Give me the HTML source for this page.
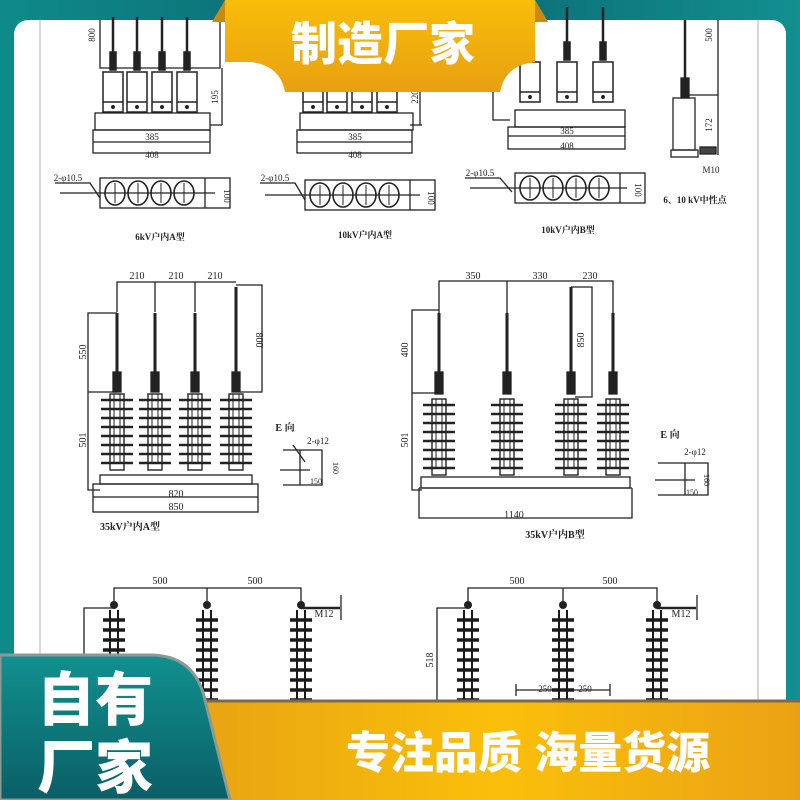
<!DOCTYPE html>
<html><head><meta charset="utf-8"><style>
html,body{margin:0;padding:0;width:800px;height:800px;overflow:hidden;background:#0e7c80}
svg{display:block}
text{font-family:"Liberation Serif","Noto Serif CJK SC",serif;fill:#222}
.ban{font-family:"Liberation Sans","Noto Sans CJK SC",sans-serif;font-weight:900;fill:#fff}
</style></head><body>
<svg width="800" height="800" viewBox="0 0 800 800" xmlns="http://www.w3.org/2000/svg">
<defs>
<linearGradient id="tg" x1="0" y1="0" x2="1" y2="0"><stop offset="0" stop-color="#0f8a8a"/><stop offset="0.5" stop-color="#0b6570"/><stop offset="1" stop-color="#128f90"/></linearGradient>
<linearGradient id="og" x1="0" y1="0" x2="0" y2="1"><stop offset="0" stop-color="#f9bd0a"/><stop offset="1" stop-color="#e8a010"/></linearGradient>
<linearGradient id="og2" x1="0" y1="0" x2="1" y2="0"><stop offset="0" stop-color="#e8a412"/><stop offset="0.5" stop-color="#fbbf0a"/><stop offset="1" stop-color="#eaa214"/></linearGradient>
<linearGradient id="tg2" x1="0" y1="0" x2="0" y2="1"><stop offset="0" stop-color="#11908f"/><stop offset="1" stop-color="#0a5f66"/></linearGradient>
<g id="sh" stroke="#222" stroke-width="2.6" fill="none">
<rect x="-7" y="-6" width="14" height="76" fill="#fff" stroke-width="1.4"/>
<line x1="-16" y1="0" x2="16" y2="0"/><line x1="-16" y1="9" x2="16" y2="9"/><line x1="-16" y1="18" x2="16" y2="18"/><line x1="-16" y1="27" x2="16" y2="27"/><line x1="-16" y1="36" x2="16" y2="36"/><line x1="-16" y1="45" x2="16" y2="45"/><line x1="-16" y1="54" x2="16" y2="54"/><line x1="-16" y1="63" x2="16" y2="63"/>
<line x1="-3" y1="-6" x2="-3" y2="62" stroke-width="1"/><line x1="3" y1="-6" x2="3" y2="62" stroke-width="1"/>
</g>
<g id="sd" stroke="#1a1a1a" stroke-width="3.5" fill="none">
<line x1="-11" y1="0" x2="11" y2="0"/><line x1="-11" y1="10" x2="11" y2="10"/><line x1="-11" y1="20" x2="11" y2="20"/><line x1="-11" y1="30" x2="11" y2="30"/><line x1="-11" y1="40" x2="11" y2="40"/><line x1="-11" y1="50" x2="11" y2="50"/><line x1="-11" y1="60" x2="11" y2="60"/><line x1="-11" y1="70" x2="11" y2="70"/><line x1="-11" y1="80" x2="11" y2="80"/><line x1="-11" y1="90" x2="11" y2="90"/>
<line x1="-4" y1="-10" x2="-4" y2="95" stroke-width="2"/><line x1="4" y1="-10" x2="4" y2="95" stroke-width="2"/>
</g>
<g id="body" stroke="#222" stroke-width="1.5" fill="#fff">
<line x1="0" y1="-55" x2="0" y2="-10" stroke-width="2.5"/>
<rect x="-3" y="-20" width="6" height="18" fill="#222"/>
<rect x="-10" y="0" width="20" height="40"/>
<line x1="-10" y1="30" x2="10" y2="30"/>
<circle cx="0" cy="35" r="1.2" fill="#222"/>
</g>
<g id="cir" stroke="#222" stroke-width="1.6" fill="none">
<ellipse cx="0" cy="0" rx="10" ry="12"/><line x1="0" y1="-10" x2="0" y2="10" stroke-width="1"/><line x1="-8" y1="0" x2="8" y2="0" stroke-width="1"/>
</g>
</defs>
<rect width="800" height="800" fill="url(#tg)"/>
<rect x="14" y="20" width="772" height="800" rx="14" fill="#fff"/>
<line x1="40" y1="20" x2="40" y2="800" stroke="#ccc" stroke-width="1.5"/>
<line x1="758" y1="20" x2="758" y2="800" stroke="#ccc" stroke-width="1.5"/>

<!-- TOP ROW -->
<g stroke="#222" stroke-width="1.3" fill="none">
<!-- left assembly -->
<use href="#body" x="113" y="72"/><use href="#body" x="137" y="72"/><use href="#body" x="162" y="72"/><use href="#body" x="187" y="72"/>
<rect x="95" y="113" width="115" height="17"/>
<rect x="93" y="130" width="117" height="23"/><line x1="93" y1="142" x2="210" y2="142"/>
<polyline points="100,20 100,68 220,68 220,20"/><line x1="210" y1="125" x2="222" y2="125"/><line x1="222" y1="68" x2="222" y2="125"/>
<rect x="100" y="178" width="130" height="30"/><line x1="205" y1="178" x2="205" y2="208"/>
<use href="#cir" x="115" y="193"/><use href="#cir" x="138" y="193"/><use href="#cir" x="161" y="193"/><use href="#cir" x="184" y="193"/>
<polyline points="55,183 90,183 100,198"/><line x1="60" y1="193" x2="215" y2="193"/>
<!-- middle assembly -->
<use href="#body" x="313" y="72"/><use href="#body" x="337" y="72"/><use href="#body" x="362" y="72"/><use href="#body" x="387" y="72"/>
<rect x="300" y="113" width="113" height="17"/>
<rect x="297" y="130" width="115" height="23"/><line x1="297" y1="142" x2="412" y2="142"/>
<line x1="420" y1="60" x2="420" y2="125"/><line x1="410" y1="125" x2="422" y2="125"/>
<rect x="305" y="180" width="130" height="30"/><line x1="410" y1="180" x2="410" y2="210"/>
<use href="#cir" x="320" y="195"/><use href="#cir" x="343" y="195"/><use href="#cir" x="366" y="195"/><use href="#cir" x="389" y="195"/>
<polyline points="260,183 295,183 305,200"/><line x1="265" y1="195" x2="420" y2="195"/>
<!-- right assembly -->
<use href="#body" x="530" y="62"/><use href="#body" x="567" y="62"/><use href="#body" x="603" y="62"/>
<rect x="515" y="110" width="110" height="17"/>
<rect x="508" y="127" width="117" height="22"/><line x1="508" y1="136" x2="625" y2="136"/>
<polyline points="493,90 493,120 510,120"/>
<rect x="515" y="173" width="130" height="30"/><line x1="620" y1="173" x2="620" y2="203"/>
<use href="#cir" x="530" y="188"/><use href="#cir" x="553" y="188"/><use href="#cir" x="576" y="188"/><use href="#cir" x="599" y="188"/>
<polyline points="465,178 500,178 512,192"/><line x1="470" y1="188" x2="627" y2="188"/>
<!-- neutral -->
<line x1="685" y1="20" x2="685" y2="80" stroke-width="2.5"/><rect x="681" y="78" width="8" height="20" fill="#222"/>
<rect x="673" y="98" width="22" height="52"/><rect x="671" y="150" width="27" height="7"/>
<polyline points="688,95 718,95 718,20"/><line x1="718" y1="95" x2="718" y2="155"/><rect x="700" y="147" width="16" height="7" fill="#444"/>
</g>
<g font-size="9" text-anchor="middle">
<text x="152" y="140">385</text><text x="152" y="158">408</text>
<text x="355" y="140">385</text><text x="355" y="158">408</text>
<text x="567" y="134">385</text><text x="567" y="149">408</text>
<text x="68" y="181">2-φ10.5</text><text x="275" y="181">2-φ10.5</text><text x="480" y="176">2-φ10.5</text>
<text x="224" y="196" transform="rotate(90 224 196)">100</text>
<text x="428" y="198" transform="rotate(90 428 198)">100</text>
<text x="635" y="190" transform="rotate(90 635 190)">100</text>
<text x="712" y="35" transform="rotate(-90 712 35)">500</text>
<text x="712" y="125" transform="rotate(-90 712 125)">172</text>
<text x="711" y="173">M10</text>
<text x="95" y="35" transform="rotate(-90 95 35)">800</text>
<text x="218" y="97" transform="rotate(-90 218 97)">195</text>
<text x="418" y="97" transform="rotate(-90 418 97)">220</text>
<text x="160" y="240" font-weight="bold">6kV户内A型</text>
<text x="365" y="238" font-weight="bold">10kV户内A型</text>
<text x="568" y="233" font-weight="bold">10kV户内B型</text>
<text x="695" y="203" font-weight="bold">6、10 kV中性点</text>
</g>

<!-- MIDDLE LEFT 35kV A -->
<g stroke="#222" stroke-width="1.3" fill="none">
<polyline points="117,312 117,282 236,282"/><line x1="155" y1="282" x2="155" y2="312"/><line x1="195" y1="282" x2="195" y2="312"/>
<polyline points="236,285 262,285 262,392 240,392"/>
<polyline points="117,313 88,313 88,490 100,490"/><line x1="88" y1="392" x2="117" y2="392"/>
<line x1="117" y1="313" x2="117" y2="385" stroke-width="3"/><line x1="155" y1="313" x2="155" y2="385" stroke-width="3"/><line x1="195" y1="313" x2="195" y2="385" stroke-width="3"/><line x1="236" y1="287" x2="236" y2="385" stroke-width="3"/>
<rect x="113" y="372" width="8" height="20" fill="#222"/><rect x="151" y="372" width="8" height="20" fill="#222"/><rect x="191" y="372" width="8" height="20" fill="#222"/><rect x="232" y="372" width="8" height="20" fill="#222"/>
<rect x="100" y="475" width="152" height="9"/>
<rect x="93" y="484" width="165" height="28"/><line x1="93" y1="497" x2="258" y2="497"/>
<polyline points="283,450 322,450 322,485 283,485"/><line x1="300" y1="450" x2="300" y2="485"/><line x1="280" y1="470" x2="310" y2="470"/><line x1="293" y1="445" x2="305" y2="462"/>
</g>
<use href="#sh" x="117" y="400"/><use href="#sh" x="155" y="400"/><use href="#sh" x="195" y="400"/><use href="#sh" x="236" y="400"/>
<g font-size="10" text-anchor="middle">
<text x="137" y="279">210</text><text x="176" y="279">210</text><text x="215" y="279">210</text>
<text x="256" y="340" transform="rotate(90 256 340)">800</text>
<text x="86" y="352" transform="rotate(-90 86 352)">550</text>
<text x="86" y="440" transform="rotate(-90 86 440)">501</text>
<text x="176" y="497">820</text><text x="176" y="510">850</text>
<text x="285" y="431" font-weight="bold">E 向</text><text x="318" y="444" font-size="9">2-φ12</text>
<text x="316" y="484" font-size="8">150</text><text x="333" y="468" font-size="8" transform="rotate(90 333 468)">160</text>
<text x="130" y="530" font-weight="bold">35kV户内A型</text>
</g>

<!-- MIDDLE RIGHT 35kV B -->
<g stroke="#222" stroke-width="1.3" fill="none">
<polyline points="439,313 439,281 613,281 613,313"/><line x1="507" y1="281" x2="507" y2="313"/>
<polyline points="571,287 592,287 592,397 575,397"/>
<polyline points="439,310 412,310 412,490 422,490"/><line x1="412" y1="393" x2="439" y2="393"/>
<line x1="439" y1="313" x2="439" y2="385" stroke-width="3"/><line x1="507" y1="313" x2="507" y2="385" stroke-width="3"/><line x1="571" y1="287" x2="571" y2="385" stroke-width="3"/><line x1="613" y1="313" x2="613" y2="385" stroke-width="3"/>
<rect x="435" y="372" width="8" height="22" fill="#222"/><rect x="503" y="372" width="8" height="22" fill="#222"/><rect x="567" y="372" width="8" height="22" fill="#222"/><rect x="609" y="372" width="8" height="22" fill="#222"/>
<rect x="421" y="477" width="209" height="11"/>
<polyline points="419,488 419,518 632,518 632,488"/><line x1="419" y1="488" x2="632" y2="488"/>
<polyline points="658,463 708,463 708,495 658,495"/><line x1="685" y1="463" x2="685" y2="495"/><line x1="655" y1="480" x2="695" y2="480"/>
</g>
<use href="#sh" x="439" y="405"/><use href="#sh" x="507" y="405"/><use href="#sh" x="571" y="405"/><use href="#sh" x="613" y="405"/>
<g font-size="10" text-anchor="middle">
<text x="473" y="279">350</text><text x="540" y="279">330</text><text x="590" y="279">230</text>
<text x="584" y="340" transform="rotate(-90 584 340)">850</text>
<text x="408" y="350" transform="rotate(-90 408 350)">400</text>
<text x="408" y="440" transform="rotate(-90 408 440)">501</text>
<text x="514" y="518">1140</text>
<text x="670" y="438" font-weight="bold">E 向</text><text x="695" y="455" font-size="9">2-φ12</text>
<text x="692" y="495" font-size="8">150</text><text x="704" y="480" font-size="8" transform="rotate(90 704 480)">160</text>
<text x="555" y="538" font-weight="bold">35kV户内B型</text>
</g>

<!-- BOTTOM -->
<g stroke="#222" stroke-width="1.3" fill="none">
<polyline points="114,604 114,588 301,588 301,604"/><line x1="207" y1="588" x2="207" y2="604"/>
<polyline points="114,608 84,608 84,720"/>
<line x1="301" y1="608" x2="340" y2="608" stroke-width="2.5"/><line x1="341" y1="595" x2="341" y2="620"/>
<polyline points="468,604 468,588 657,588 657,604"/><line x1="563" y1="588" x2="563" y2="604"/>
<polyline points="468,608 437,608 437,720"/>
<line x1="657" y1="608" x2="696" y2="608" stroke-width="2.5"/><line x1="697" y1="595" x2="697" y2="620"/>
<line x1="516" y1="690" x2="610" y2="690"/><line x1="516" y1="684" x2="516" y2="696"/><line x1="610" y1="684" x2="610" y2="696"/>
</g>
<g fill="#222"><circle cx="114" cy="605" r="4"/><circle cx="207" cy="605" r="4"/><circle cx="301" cy="605" r="4"/><circle cx="468" cy="605" r="4"/><circle cx="563" cy="605" r="4"/><circle cx="657" cy="605" r="4"/></g>
<use href="#sd" x="114" y="620"/><use href="#sd" x="207" y="620"/><use href="#sd" x="301" y="620"/>
<use href="#sd" x="468" y="620"/><use href="#sd" x="563" y="620"/><use href="#sd" x="657" y="620"/>
<g font-size="10" text-anchor="middle">
<text x="160" y="584">500</text><text x="255" y="584">500</text>
<text x="517" y="584">500</text><text x="610" y="584">500</text>
<text x="324" y="617">M12</text><text x="681" y="617">M12</text>
<text x="80" y="675" transform="rotate(-90 80 675)">518</text>
<text x="433" y="660" transform="rotate(-90 433 660)">518</text>
<text x="545" y="692" font-size="9">250</text><text x="585" y="692" font-size="9">250</text>
</g>

<!-- Banners -->
<path d="M225,0 L535,0 L548,22 L535,22 L535,62 Q505,65 500,92 L285,92 Q280,65 250,62 L225,62 Z" fill="url(#og)"/>
<path d="M225,0 L212,22 L225,22 Z" fill="#c98a10"/>
<path d="M535,0 L548,22 L535,22 Z" fill="#c98a10"/>
<text x="383" y="60" class="ban" font-size="46" text-anchor="middle">制造厂家</text>

<rect x="200" y="700" width="600" height="100" fill="url(#og2)"/>
<line x1="200" y1="701" x2="800" y2="701" stroke="#7a6a50" stroke-width="3"/>
<path d="M0,655 L150,655 Q195,655 205,700 L230,800 L0,800 Z" fill="url(#tg2)" stroke="#8a9a96" stroke-width="3"/>
<text x="95" y="720" class="ban" font-size="58" text-anchor="middle">自有</text>
<text x="95" y="788" class="ban" font-size="58" text-anchor="middle">厂家</text>
<text x="528" y="768" class="ban" font-size="44" text-anchor="middle">专注品质  海量货源</text>
</svg>
</body></html>
